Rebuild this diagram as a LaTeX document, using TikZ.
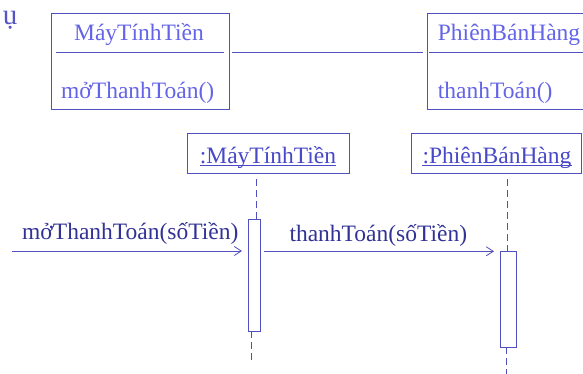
\documentclass[tikz,border=0pt]{standalone}
\usepackage{fontspec}
\setmainfont{Liberation Serif}
\usetikzlibrary{arrows.meta}
\definecolor{clstxt}{RGB}{100,100,232}
\definecolor{objtxt}{RGB}{72,72,200}
\definecolor{msgtxt}{RGB}{50,50,150}
\definecolor{lncol}{RGB}{80,80,190}
\tikzset{
  clsbox/.style={draw, color=lncol, fill=white, line width=0.9pt, inner sep=0pt, anchor=north west},
  txt/.style={inner sep=0pt, font=\fontsize{23.5}{26}\selectfont},
  clstext/.style={txt, text=clstxt},
  objtext/.style={txt, text=objtxt},
  msgtext/.style={txt, text=msgtxt},
  lifeline/.style={draw=lncol, line width=0.9pt, dash pattern=on 7pt off 4pt},
  actbox/.style={draw=lncol, line width=0.9pt, inner sep=0pt, anchor=north west, fill=white},
  msgline/.style={draw=lncol, line width=0.8pt, -{Straight Barb[length=7pt,width=9pt,line width=0.8pt]}},
}
\begin{document}
\begin{tikzpicture}[x=1pt,y=-1pt]
\useasboundingbox (0,0) rectangle (583,374);
% fragment of cropped heading
\node[inner sep=0pt, text=clstxt!85!black, font=\fontsize{29}{32}\selectfont, anchor=base] (frag) at (10,25) {ụ};
% class boxes
\node[clsbox, minimum width=178pt, minimum height=96.3pt] (c1) at (50.7,12.7) {};
\node[clstext, anchor=base] (c1name) at (139,41) {MáyTínhTiền};
\node[clstext, anchor=base west] (c1op) at (61,99) {mởThanhToán()};
\draw[lncol, line width=0.9pt] (56,52.7) -- (224,52.7);
\node[clsbox, minimum width=160pt, minimum height=96.3pt] (c2) at (426.7,12.7) {};
\node[clstext, anchor=base west] (c2name) at (437.7,41) {PhiênBánHàng};
\node[clstext, anchor=base west] (c2op) at (437.7,99) {thanhToán()};
\draw[lncol, line width=0.9pt] (429.3,52.7) -- (590,52.7);
% association
\coordinate (asA) at (232,52.5);
\coordinate (asB) at (423,52.5);
\draw[lncol, line width=0.9pt] (asA) -- (asB);
% objects
\node[clsbox, minimum width=161.4pt, minimum height=40pt] (o1) at (187.3,133.3) {};
\node[objtext, anchor=base] (o1t) at (268,163.3) {:MáyTínhTiền};
\draw[objtxt, line width=0.8pt] ([yshift=-2.6pt]o1t.base west) -- ([yshift=-2.6pt]o1t.base east);
\node[clsbox, minimum width=169.4pt, minimum height=40pt] (o2) at (411.3,133.3) {};
\node[objtext, anchor=base] (o2t) at (497,163.3) {:PhiênBánHàng};
\draw[objtxt, line width=0.8pt] ([yshift=-2.6pt]o2t.base west) -- ([yshift=-2.6pt]o2t.base east);
% activation boxes
\node[actbox, minimum width=12pt, minimum height=112pt] (a1) at (248,219.3) {};
\node[actbox, minimum width=15.7pt, minimum height=96pt] (a2) at (500,251.3) {};
% lifelines
\coordinate (l1a) at (256,179);
\coordinate (l1b) at (251.5,331.3);
\coordinate (l1c) at (251.5,362);
\draw[lifeline] (l1a) -- (l1a |- a1.north);
\draw[lifeline] (l1b) -- (l1c);
\coordinate (l2a) at (507.3,179);
\coordinate (l2b) at (506.7,347.3);
\coordinate (l2c) at (506.7,378);
\draw[lifeline] (l2a) -- (l2a |- a2.north);
\draw[lifeline] (l2b) -- (l2c);
% messages
\coordinate (m1s) at (11.7,251);
\draw[msgline] (m1s) -- ([xshift=-6pt]m1s -| a1.west);
\node[msgtext, anchor=base west] (m1l) at (22,239.3) {mởThanhToán(sốTiền)};
\draw[msgline] ([xshift=3.3pt]a2.north west -| a1.east) -- ([xshift=-6pt]a2.north west);
\node[msgtext, anchor=base west] (m2l) at (289.3,241.7) {thanhToán(sốTiền)};
\end{tikzpicture}
\end{document}
